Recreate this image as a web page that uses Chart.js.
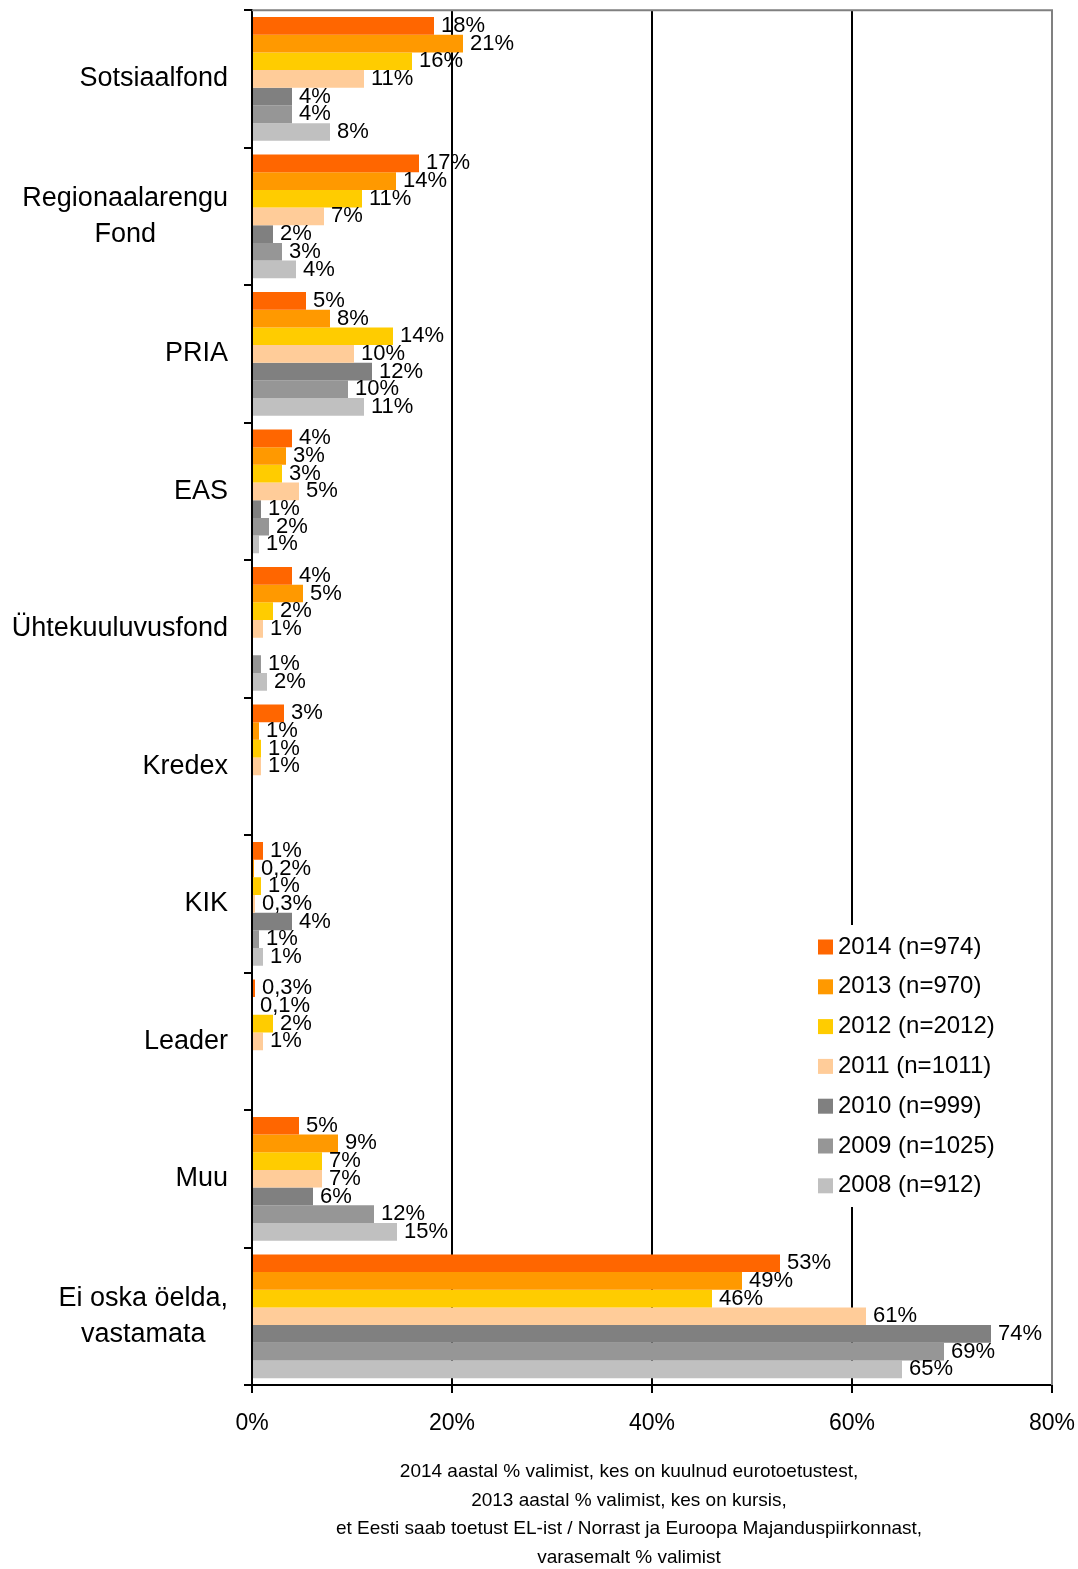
<!DOCTYPE html>
<html>
<head>
<meta charset="utf-8">
<script src="https://cdn.jsdelivr.net/npm/chart.js@4"></script>
<style>
  body { margin: 0; background: #fff; }
</style>
</head>
<body>
<canvas id="chart" width="1078" height="1569"></canvas>
<script>
const categories = [
    ['Sotsiaalfond'],
    ['Regionaalarengu', 'Fond'],
    ['PRIA'],
    ['EAS'],
    ['Ühtekuuluvusfond'],
    ['Kredex'],
    ['KIK'],
    ['Leader'],
    ['Muu'],
    ['Ei oska öelda,', 'vastamata']
];

const years = ['2014 (n=974)', '2013 (n=970)', '2012 (n=2012)', '2011 (n=1011)', '2010 (n=999)', '2009 (n=1025)', '2008 (n=912)'];

const v2014 = [18.2, 16.7, 5.4, 4.0, 4.0, 3.2, 1.1, 0.3, 4.7, 52.8];
const v2013 = [21.1, 14.4, 7.8, 3.4, 5.1, 0.7, 0.2, 0.1, 8.6, 49.0];
const v2012 = [16.0, 11.0, 14.1, 3.0, 2.1, 0.9, 0.9, 2.1, 7.0, 46.0];
const v2011 = [11.2, 7.2, 10.2, 4.7, 1.1, 0.9, 0.3, 1.1, 7.0, 61.4];
const v2010 = [4.0, 2.1, 12.0, 0.9, null, null, 4.0, null, 6.1, 73.9];
const v2009 = [4.0, 3.0, 9.6, 1.7, 0.9, null, 0.7, null, 12.2, 69.2];
const v2008 = [7.8, 4.4, 11.2, 0.7, 1.5, null, 1.1, null, 14.5, 65.0];

const colors = ['#FF6600', '#FF9900', '#FFCC00', '#FFCC99', '#808080', '#969696', '#C0C0C0'];

const axisTitle = [
    '2014 aastal % valimist, kes on kuulnud eurotoetustest,',
    '2013 aastal % valimist, kes on kursis,',
    'et Eesti saab toetust EL-ist / Norrast ja Euroopa Majanduspiirkonnast,',
    'varasemalt % valimist'
];

const FONT = "'Liberation Sans', Arial, sans-serif";
const series = [v2014, v2013, v2012, v2011, v2010, v2009, v2008];

function fmt(v) {
    if (v < 0.5) return v.toFixed(1).replace('.', ',') + '%';
    return Math.round(v) + '%';
}

const drawExtras = {
    id: 'drawExtras',
    afterDatasetsDraw(chart) {
        const ctx = chart.ctx;
        const area = chart.chartArea;
        ctx.save();
        // grey top / right frame
        ctx.strokeStyle = '#808080';
        ctx.lineWidth = 2;
        ctx.beginPath();
        ctx.moveTo(area.left, area.top);
        ctx.lineTo(area.right, area.top);
        ctx.lineTo(area.right, area.bottom);
        ctx.stroke();

        // value labels
        ctx.font = '22px ' + FONT;
        ctx.fillStyle = '#000';
        ctx.textBaseline = 'middle';
        ctx.textAlign = 'left';
        chart.data.datasets.forEach((ds, di) => {
            const meta = chart.getDatasetMeta(di);
            meta.data.forEach((bar, i) => {
                const v = ds.data[i];
                if (v === null || v === undefined) return;
                ctx.fillText(fmt(v), bar.x + 7, bar.y);
            });
        });

        // category labels, lines centred on each other, right edge near axis
        const yScale = chart.scales.y;
        ctx.font = '27px ' + FONT;
        ctx.textAlign = 'center';
        chart.data.labels.forEach((lines, i) => {
            const yc = yScale.getPixelForValue(i);
            let w = 0;
            lines.forEach(l => { w = Math.max(w, ctx.measureText(l).width); });
            const xc = yScale.right - 24 - w / 2;
            const lh = 36;
            lines.forEach((l, k) => {
                ctx.fillText(l, xc, yc + (k - (lines.length - 1) / 2) * lh);
            });
        });

        // legend box inside plot
        const lx = 808, ly = 925;
        ctx.fillStyle = '#fff';
        ctx.fillRect(lx, ly, 192, 282);
        ctx.font = '24px ' + FONT;
        ctx.textAlign = 'left';
        chart.data.datasets.forEach((ds, di) => {
            const ry = 947 + di * 39.8;
            ctx.fillStyle = ds.backgroundColor;
            ctx.fillRect(818, ry - 7.5, 15, 15);
            ctx.fillStyle = '#000';
            ctx.fillText(ds.label, 838, ry);
        });

        // axis title
        ctx.font = '19px ' + FONT;
        ctx.textAlign = 'center';
        axisTitle.forEach((t, k) => {
            ctx.fillText(t, 629, 1472 + k * 28.5);
        });
        ctx.restore();
    }
};

new Chart(document.getElementById('chart'), {
    type: 'bar',
    data: {
        labels: categories,
        datasets: series.map((d, i) => ({
            label: years[i],
            data: d,
            backgroundColor: colors[i],
            borderWidth: 0,
            categoryPercentage: 0.9,
            barPercentage: 1.0
        }))
    },
    options: {
        indexAxis: 'y',
        responsive: false,
        animation: false,
        layout: { padding: { top: 10, right: 26, left: 0, bottom: 0 } },
        plugins: {
            legend: { display: false },
            tooltip: { enabled: false }
        },
        scales: {
            x: {
                min: 0,
                max: 80,
                border: { color: '#000', width: 2 },
                grid: {
                    color: ctx => (ctx.tick && ctx.tick.value === 80) ? '#808080' : '#000',
                    tickColor: '#000',
                    lineWidth: 2,
                    tickLength: 8
                },
                ticks: {
                    stepSize: 20,
                    padding: 17,
                    color: '#000',
                    font: { size: 23, family: FONT },
                    callback: v => v + '%'
                },
                afterFit: scale => {
                    scale.height = 184;
                    scale.paddingLeft = 0;
                    scale.paddingRight = 0;
                }
            },
            y: {
                border: { color: '#000', width: 2 },
                grid: {
                    drawOnChartArea: false,
                    color: '#000',
                    lineWidth: 2,
                    tickLength: 8
                },
                ticks: {
                    callback: () => ''
                },
                afterFit: scale => { scale.width = 252; }
            }
        }
    },
    plugins: [drawExtras]
});
</script>
</body>
</html>
